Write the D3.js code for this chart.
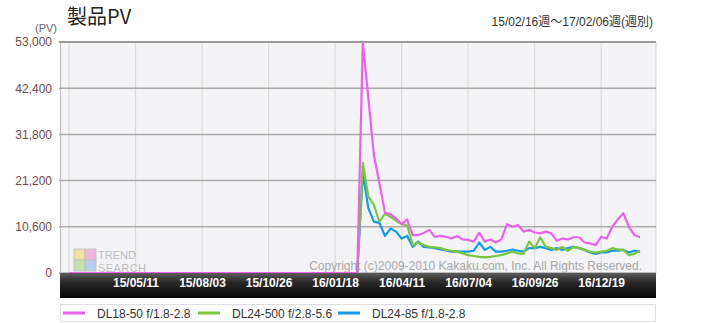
<!DOCTYPE html>
<html>
<head>
<meta charset="utf-8">
<script src="https://cdn.jsdelivr.net/npm/d3@7"></script>
<style>
    body { margin: 0; background: #fff; }
    svg { display: block; font-family: "Liberation Sans", Arial, sans-serif; }
</style>
</head>
<body>
<div id="chart"></div>
<script>
// weekly PV, 15/02/16 .. 17/02/06 (104 weeks)
const startWeek = "15/02/16", endWeek = "17/02/06";
const tickLabels = ["15/05/11", "15/08/03", "15/10/26", "16/01/18", "16/04/11", "16/07/04", "16/09/26", "16/12/19"];
const yTicks = [0, 10600, 21200, 31800, 42400, 53000];
const seriesNames = ["DL18-50 f/1.8-2.8", "DL24-500 f/2.8-5.6", "DL24-85 f/1.8-2.8"];
const seriesColors = ["#ea62ea", "#7cc63e", "#1499e6"];

const pvDL1850 = [
    0, 0, 0, 0, 0, 0, 0, 0, 0, 0, 0, 0, 0, 0, 0, 0, 0, 0, 0, 0, 0, 0, 0, 0, 0, 0, 0,
    0, 0, 0, 0, 0, 0, 0, 0, 0, 0, 0, 0, 0, 0, 0, 0, 0, 0, 0, 0, 0, 0, 0, 0, 0, 0,
    52800, 40100, 27000, 20600, 13800, 13500, 12500, 11200, 12300, 8700,
    8700, 9200, 9900, 8300, 8500, 8300, 7900, 8500, 7700, 7600,
    7200, 9200, 7200, 7700, 7000, 7700, 11200, 10600, 11000, 9500,
    9900, 9300, 9100, 9500, 9100, 7400, 7900, 7700, 8200, 8200,
    7000, 6800, 6400, 8300, 7900, 10600, 12300, 13700, 10600, 8700, 8200
];
const pvDL24500 = [
    0, 0, 0, 0, 0, 0, 0, 0, 0, 0, 0, 0, 0, 0, 0, 0, 0, 0, 0, 0, 0, 0, 0, 0, 0, 0, 0,
    0, 0, 0, 0, 0, 0, 0, 0, 0, 0, 0, 0, 0, 0, 0, 0, 0, 0, 0, 0, 0, 0, 0, 0, 0, 0,
    25300, 17500, 15600, 11800, 13600, 12900, 12000, 11200, 10900, 6400,
    7000, 6400, 6000, 5900, 5700, 5300, 5100, 4900, 4500, 4100,
    3900, 3700, 3600, 3700, 3900, 4100, 4500, 4900, 4500, 4400,
    7200, 5700, 8200, 6000, 5700, 5300, 6000, 5100, 6000, 5700,
    5300, 4900, 4700, 4900, 5100, 5700, 5400, 5300, 4100, 4400, 5100
];
const pvDL2485 = [
    0, 0, 0, 0, 0, 0, 0, 0, 0, 0, 0, 0, 0, 0, 0, 0, 0, 0, 0, 0, 0, 0, 0, 0, 0, 0, 0,
    0, 0, 0, 0, 0, 0, 0, 0, 0, 0, 0, 0, 0, 0, 0, 0, 0, 0, 0, 0, 0, 0, 0, 0, 0, 0,
    23000, 14900, 11800, 11500, 8500, 10200, 9500, 7900, 8500, 6000,
    7200, 6000, 5900, 5700, 5400, 5200, 4900, 4900, 4900, 4900,
    5100, 7000, 5300, 6000, 4900, 4900, 5100, 5400, 5100, 4900,
    5700, 5700, 6000, 5700, 5300, 5700, 5300, 5700, 6000, 5700,
    5300, 4700, 4400, 4700, 4700, 5100, 5100, 5300, 4700, 5100, 4900
];

const parseWeek = d3.timeParse("%y/%m/%d");
const weeks = d3.timeMonday.range(parseWeek(startWeek), d3.timeDay.offset(parseWeek(endWeek), 1));
const series = [pvDL1850, pvDL24500, pvDL2485];

const W = 715, H = 323;
const plot = {left: 60, right: 656, top: 42, bottom: 273};

const svg = d3.select("#chart").append("svg")
    .attr("width", W)
    .attr("height", H);

const defs = svg.append("defs");
const barGrad = defs.append("linearGradient")
    .attr("id", "axisbar")
    .attr("x1", 0).attr("y1", 0).attr("x2", 0).attr("y2", 1);
barGrad.append("stop").attr("offset", "0%").attr("stop-color", "#5c5c5c");
barGrad.append("stop").attr("offset", "35%").attr("stop-color", "#2a2a2a");
barGrad.append("stop").attr("offset", "100%").attr("stop-color", "#050505");

// scales
const x = d3.scaleTime()
    .domain([weeks[0], weeks[weeks.length - 1]])
    .range([69, 640]);
const y = d3.scaleLinear()
    .domain([0, 53000])
    .range([plot.bottom, plot.top]);

// plot background
svg.append("rect")
    .attr("x", plot.left)
    .attr("y", plot.top)
    .attr("width", plot.right - plot.left)
    .attr("height", plot.bottom - plot.top)
    .attr("fill", "#f4f4f7");

// vertical grid
const gridDates = [weeks[0]].concat(tickLabels.map(parseWeek));
svg.append("g")
    .selectAll("line")
    .data(gridDates)
    .enter()
    .append("line")
    .attr("x1", d => x(d)).attr("x2", d => x(d))
    .attr("y1", plot.top).attr("y2", plot.bottom)
    .attr("stroke", "#dcdcdc")
    .attr("stroke-width", 1.2);

svg.append("line")
    .attr("x1", plot.right).attr("x2", plot.right)
    .attr("y1", plot.top).attr("y2", plot.bottom)
    .attr("stroke", "#d0d0d0");
svg.append("line")
    .attr("x1", plot.left + 0.5).attr("x2", plot.left + 0.5)
    .attr("y1", plot.top).attr("y2", plot.bottom)
    .attr("stroke", "#bdbdbd");

// horizontal grid
svg.append("g")
    .selectAll("line")
    .data(yTicks)
    .enter()
    .append("line")
    .attr("x1", plot.left - 1).attr("x2", plot.right)
    .attr("y1", d => y(d)).attr("y2", d => y(d))
    .attr("stroke", d => d === 53000 ? "#9a9a9a" : "#ababab")
    .attr("stroke-width", d => d === 53000 ? 2 : 1.5);

// y axis labels
const yAxis = svg.append("g")
    .attr("transform", `translate(${plot.left},0)`)
    .call(d3.axisLeft(y).tickValues(yTicks).tickSize(0).tickPadding(8).tickFormat(d3.format(",")));
yAxis.select(".domain").remove();
yAxis.selectAll("text")
    .attr("font-size", "12px")
    .attr("font-family", "'Liberation Sans', Arial, sans-serif")
    .attr("fill", "#6b4c4c");

svg.append("text")
    .attr("x", 57)
    .attr("y", 32)
    .attr("text-anchor", "end")
    .attr("font-size", "11px")
    .attr("fill", "#666")
    .text("(PV)");

// TREND SEARCH watermark
const logo = svg.append("g").attr("transform", "translate(74,249)").attr("opacity", 0.6);
[["#f2d36b", 0, 0, 11, 11], ["#e88fc8", 11, 0, 11, 11], ["#8fb8e8", 11, 11, 11, 11], ["#a9d67a", 0, 11, 11, 11]]
    .forEach(c => {
        logo.append("rect")
            .attr("x", c[1]).attr("y", c[2])
            .attr("width", c[3]).attr("height", c[4])
            .attr("fill", c[0])
            .attr("stroke", "#999")
            .attr("stroke-width", 0.8);
    });
logo.append("text")
    .attr("x", 24).attr("y", 9.5)
    .attr("font-size", "11px")
    .attr("textLength", 38)
    .attr("fill", "#999")
    .text("TREND");
logo.append("text")
    .attr("x", 24).attr("y", 22.5)
    .attr("font-size", "11px")
    .attr("textLength", 48)
    .attr("fill", "#999")
    .text("SEARCH");

// copyright
svg.append("text")
    .attr("x", 642)
    .attr("y", 270)
    .attr("text-anchor", "end")
    .attr("font-size", "12px")
    .attr("fill", "#a8a8a8")
    .text("Copyright (c)2009-2010 Kakaku.com, Inc. All Rights Reserved.");

// lines (pink drawn on top)
const line = d3.line()
    .x((d, i) => x(weeks[i]))
    .y(d => y(d));
[2, 1, 0].forEach(k => {
    svg.append("path")
        .datum(series[k])
        .attr("d", line)
        .attr("fill", "none")
        .attr("stroke", seriesColors[k])
        .attr("stroke-width", 2.2)
        .attr("stroke-linejoin", "round");
});

// bottom axis bar
svg.append("rect")
    .attr("x", plot.left)
    .attr("y", plot.bottom)
    .attr("width", plot.right - plot.left)
    .attr("height", 25)
    .attr("fill", "url(#axisbar)");

const xAxis = svg.append("g")
    .attr("transform", `translate(0,${plot.bottom})`)
    .call(d3.axisBottom(x)
        .tickValues(tickLabels.map(parseWeek))
        .tickSize(0)
        .tickPadding(5)
        .tickFormat(d3.timeFormat("%y/%m/%d")));
xAxis.select(".domain").remove();
xAxis.selectAll("text")
    .attr("font-size", "12px")
    .attr("font-weight", "bold")
    .attr("font-family", "'Liberation Sans', Arial, sans-serif")
    .attr("fill", "#fff");

// title and period
svg.append("text")
    .attr("x", 67)
    .attr("y", 24)
    .attr("font-size", "20px")
    .attr("font-family", "'Noto Sans CJK JP', sans-serif")
    .attr("fill", "#222")
    .text("製品PV");
svg.append("text")
    .attr("x", 653)
    .attr("y", 26)
    .attr("text-anchor", "end")
    .attr("font-size", "12px")
    .attr("font-family", "'Liberation Sans', 'Noto Sans CJK JP', sans-serif")
    .attr("fill", "#333")
    .text(`${startWeek}週～${endWeek}週(週別)`);

// legend
svg.append("rect")
    .attr("x", 60.5)
    .attr("y", 304.5)
    .attr("width", 595)
    .attr("height", 17)
    .attr("fill", "#fff")
    .attr("stroke", "#dedede");
const legendX = [63, 198, 338];
const legend = svg.append("g")
    .selectAll("g")
    .data(seriesNames)
    .enter()
    .append("g")
    .attr("transform", (d, i) => `translate(${legendX[i]},313)`);
legend.append("line")
    .attr("x1", 0).attr("x2", 22)
    .attr("stroke", (d, i) => seriesColors[i])
    .attr("stroke-width", 3);
legend.append("text")
    .attr("x", 34)
    .attr("y", 4.5)
    .attr("font-size", "12px")
    .attr("fill", "#333")
    .text(d => d);
</script>
</body>
</html>
